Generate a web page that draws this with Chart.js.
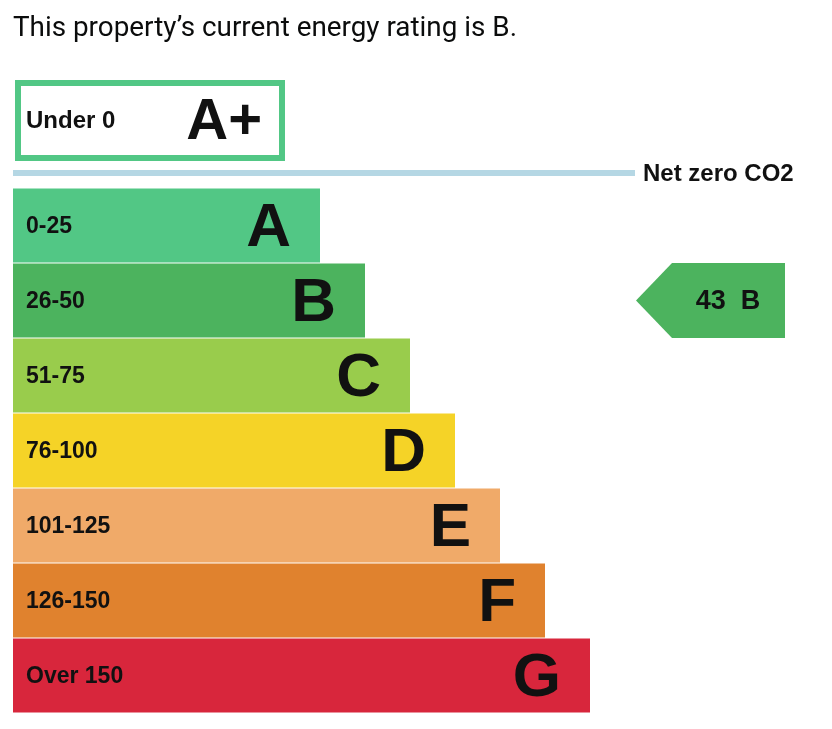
<!DOCTYPE html>
<html>
<head>
<meta charset="utf-8">
<script src="https://cdn.jsdelivr.net/npm/chart.js@4/dist/chart.umd.min.js"></script>
<style>
  html, body { margin: 0; padding: 0; background: #ffffff; }
  #wrap { position: relative; width: 832px; height: 729px; }
  #title { position: absolute; left: 13px; top: 10px; font-family: Roboto, "Liberation Sans", sans-serif; font-size: 28px; font-weight: 400; color: #0b0c0c; white-space: nowrap; transform-origin: left top; }
  canvas { display: block; }
</style>
</head>
<body>
<div id="wrap">
  <canvas id="c" width="832" height="729"></canvas>
  <div id="title">This property’s current energy rating is B.</div>
</div>
<script>
// ---- data ----
const ratings = ['A', 'B', 'C', 'D', 'E', 'F', 'G'];
const bandLabels = ['0-25', '26-50', '51-75', '76-100', '101-125', '126-150', 'Over 150'];
const barLengths = [307, 352, 397, 442, 487, 532, 577];
const bandColors = ['#52c785', '#4cb35e', '#99cc4c', '#f5d327', '#f0aa69', '#e0822e', '#d8263c'];
const topBandLabel = 'Under 0';
const topBandRating = 'A+';
const netZeroLabel = 'Net zero CO2';
const currentScore = 43;
const currentRating = 'B';

// fit title width
(function () {
  const t = document.getElementById('title');
  const w = t.getBoundingClientRect().width;
  t.style.transform = 'scaleX(' + (504 / w) + ')';
})();

const FONT = '"Liberation Sans", Arial, sans-serif';

const epcPlugin = {
  id: 'epc',
  afterDatasetsDraw(chart) {
    const ctx = chart.ctx;
    const area = chart.chartArea;
    const meta = chart.getDatasetMeta(0);
    const yScale = chart.scales.y;
    ctx.save();
    // band labels and letters
    meta.data.forEach((bar, i) => {
      ctx.fillStyle = '#111111';
      ctx.textBaseline = 'middle';
      ctx.textAlign = 'left';
      ctx.font = 'bold 23px ' + FONT;
      ctx.fillText(bandLabels[i], area.left + 13, bar.y + 1);
      ctx.textAlign = 'right';
      ctx.font = 'bold 62px ' + FONT;
      ctx.fillText(ratings[i], bar.x - 29, bar.y + 3);
    });

    // A+ box
    const boxTop = area.top - 108;
    ctx.strokeStyle = '#52c785';
    ctx.lineWidth = 6;
    ctx.strokeRect(area.left + 5, boxTop + 3, 264, 75);
    ctx.fillStyle = '#111111';
    ctx.textBaseline = 'middle';
    ctx.textAlign = 'left';
    ctx.font = 'bold 24px ' + FONT;
    ctx.fillText(topBandLabel, area.left + 13, boxTop + 41);
    ctx.textAlign = 'right';
    ctx.font = 'bold 58px ' + FONT;
    ctx.fillText(topBandRating, area.left + 249, boxTop + 43);

    // net zero line
    const nzY = area.top - 15;
    ctx.fillStyle = '#b5d7e4';
    ctx.fillRect(area.left, nzY - 3, 622, 6);
    ctx.fillStyle = '#111111';
    ctx.textAlign = 'left';
    ctx.font = 'bold 24px ' + FONT;
    ctx.fillText(netZeroLabel, 643, nzY + 1);

    // current rating arrow
    const idx = ratings.indexOf(currentRating);
    const cy = yScale.getPixelForValue(idx);
    const half = (yScale.getPixelForValue(1) - yScale.getPixelForValue(0)) / 2;
    const x0 = 636, x1 = 672, x2 = 785;
    ctx.fillStyle = bandColors[idx];
    ctx.beginPath();
    ctx.moveTo(x0, cy);
    ctx.lineTo(x1, cy - half);
    ctx.lineTo(x2, cy - half);
    ctx.lineTo(x2, cy + half);
    ctx.lineTo(x1, cy + half);
    ctx.closePath();
    ctx.fill();
    ctx.fillStyle = '#111111';
    ctx.textAlign = 'center';
    ctx.font = 'bold 27px ' + FONT;
    ctx.fillText(currentScore + '  ' + currentRating, 728, cy + 1);
    ctx.restore();
  }
};

new Chart(document.getElementById('c'), {
  type: 'bar',
  data: {
    labels: ratings,
    datasets: [{
      data: barLengths,
      backgroundColor: bandColors,
      borderWidth: 0,
      categoryPercentage: 1,
      barPercentage: 0.987
    }]
  },
  options: {
    indexAxis: 'y',
    responsive: false,
    animation: false,
    layout: { padding: { left: 13, right: 39, top: 188, bottom: 16 } },
    scales: {
      x: { display: false, min: 0, max: 780 },
      y: { display: false }
    },
    plugins: {
      legend: { display: false },
      tooltip: { enabled: false },
      title: { display: false }
    }
  },
  plugins: [epcPlugin]
});
</script>
</body>
</html>
